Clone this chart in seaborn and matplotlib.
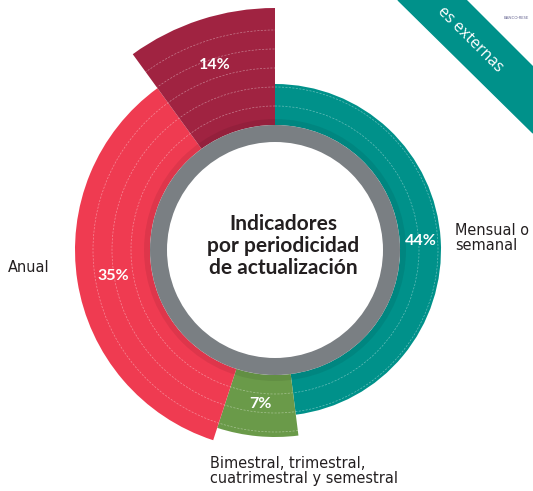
import numpy as np
import matplotlib.pyplot as plt
from matplotlib import font_manager
from matplotlib.patches import Polygon
import seaborn as sns

# data
categories = ["Mensual o\nsemanal", "Bimestral, trimestral,\ncuatrimestral y semestral", "Anual", ""]
pct = [44, 7, 35, 14]
# angular share of each slice as drawn in the source picture
arc_share = [48, 7, 35, 10]

# style / layout
colors = ["#00918a", "#6a9a49", "#ef3b51", "#a02341"]
outer_r = [166, 187, 200, 242]
label_r = [146, 155, 164, 195]
ring_in, ring_out = 108, 125

sns.set_theme(style="white")
plt.rcParams["font.family"] = ["Lato", "DejaVu Sans"]

# pick a narrow regular face for the outside labels if one is installed
narrow = None
for f in font_manager.fontManager.ttflist:
    nm = f.name + " " + f.fname
    if f.weight in (400, "normal", "regular") and f.style == "normal" and \
            ("Narrow" in nm or "Condensed" in nm or f.stretch in ("condensed", "semi-condensed")):
        if "Bold" in f.fname or "Oblique" in f.fname or "Italic" in f.fname:
            continue
        narrow = font_manager.FontProperties(fname=f.fname, size=11.6)
        break
if narrow is None:
    narrow = font_manager.FontProperties(family="Roboto", size=11)

W, H = 533, 491
fig = plt.figure(figsize=(W / 100, H / 100), dpi=100)
fig.patch.set_facecolor("white")

def fx(px):
    return px / W

def fy(py):
    return 1 - py / H

cx, cy, R = 275, 250, 250
ax = fig.add_axes([(cx - R) / W, (H - cy - R) / H, 2 * R / W, 2 * R / H], projection="polar")
ax.set_theta_zero_location("N")
ax.set_theta_direction(-1)
ax.patch.set_alpha(0)

spans = np.array(arc_share) / sum(arc_share) * 2 * np.pi
starts = np.concatenate([[0], np.cumsum(spans)[:-1]])
heights = np.array(outer_r) - ring_out
ax.bar(starts, heights, width=spans, bottom=ring_out, align="edge",
       color=colors, edgecolor="none", zorder=1)

# soft shadow under the grey ring
ax.bar(0, 6, width=2 * np.pi, bottom=ring_out, color="black", alpha=0.07,
       edgecolor="none", zorder=2)
ax.bar(0, ring_out - ring_in, width=2 * np.pi, bottom=ring_in, color="#7a7f83",
       edgecolor="none", zorder=3)

ax.set_ylim(0, R)
ax.set_xticks([])
ax.set_yticks([144, 163, 182, 201, 220])
ax.set_yticklabels([])
ax.set_axisbelow(False)
ax.yaxis.grid(True, color="white", lw=0.5, ls=(0, (3, 2)), alpha=0.4)
ax.xaxis.grid(False)
ax.spines["polar"].set_visible(False)

mids = starts + spans / 2
for m, r, p in zip(mids, label_r, pct):
    ax.text(m, r, f"{p}%", color="white", fontsize=11.5, fontweight="bold",
            ha="center", va="center", zorder=5)

fig.text(fx(283), fy(246), "Indicadores\npor periodicidad\nde actualización", ha="center",
         va="center", fontsize=15, fontweight="bold", color="#231f20",
         linespacing=1.12, zorder=5)

# category labels outside the ring
fig.text(fx(455), fy(238), categories[0], fontproperties=narrow,
         color="#231f20", ha="left", va="center", linespacing=1.0)
fig.text(fx(210), fy(471), categories[1], fontproperties=narrow,
         color="#231f20", ha="left", va="center", linespacing=1.0)
fig.text(fx(8), fy(268), categories[2], fontproperties=narrow,
         color="#231f20", ha="left", va="center")

# corner banner
band = [(398, 0), (466, 0), (533, 67), (533, 133)]
fig.patches.append(Polygon([(fx(x), fy(y)) for x, y in band], closed=True,
                           transform=fig.transFigure, color="#00918a", zorder=0))
fig.text(fx(500), fy(70), "es externas", family=["Open Sans", "DejaVu Sans"],
         fontsize=11.5, color="white", rotation=-45, rotation_mode="anchor",
         ha="right", va="center")
fig.text(fx(516), fy(18), "BANCO·RESE", fontsize=3, color="#6b6a95",
         ha="center", va="center")

fig.savefig("out.png", dpi=100, facecolor="white")
